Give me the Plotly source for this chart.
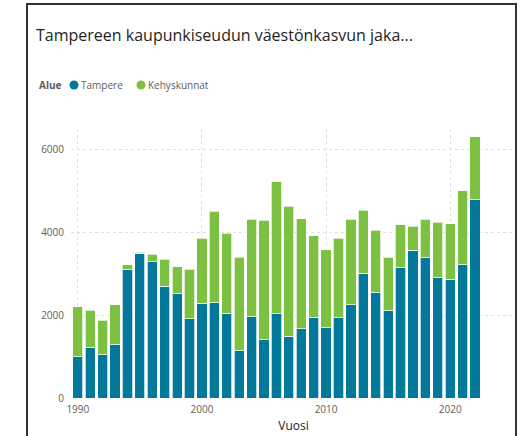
import plotly.graph_objects as go

years = list(range(1990, 2023))
tampere = [1000, 1230, 1045, 1285, 3090, 3490, 3285, 2700, 2520, 1910,
           2290, 2300, 2040, 1140, 1960, 1400, 2030, 1485, 1670, 1945,
           1695, 1935, 2250, 3010, 2555, 2105, 3155, 3565, 3380, 2900,
           2870, 3215, 4780]
totals = [2200, 2120, 1870, 2250, 3210, 3520, 3470, 3350, 3165, 3110,
          3850, 4505, 3975, 3400, 4315, 4290, 5215, 4625, 4320, 3910,
          3575, 3855, 4315, 4530, 4050, 3400, 4185, 4145, 4315, 4240,
          4210, 5000, 6300]
kehys = [t - a for t, a in zip(totals, tampere)]
series_names = ["Tampere", "Kehyskunnat"]
legend_title = "Alue"

BLUE = "#02799B"
GREEN = "#7DC143"
FONT = "Open Sans"

fig = go.Figure()
fig.add_bar(x=years, y=tampere, name=series_names[0], marker_color=BLUE,
            marker_line=dict(color="rgba(255,255,255,0.7)", width=1), showlegend=False)
fig.add_bar(x=years, y=kehys, name=series_names[1], marker_color=GREEN,
            marker_line=dict(color="rgba(255,255,255,0.7)", width=1), showlegend=False)

L, R, T, B = 71, 12, 129, 38
W, H = 528, 436
pw = W - L - R
ph = H - T - B

def px2x(px):
    return (px - L) / pw

def py2y(py):
    return (H - B - py) / ph

annotations = []
shapes = []
ly = py2y(85)
annotations.append(dict(text="<b>%s</b>" % legend_title, xref="paper", yref="paper",
                        x=px2x(37), y=ly, xanchor="left", yanchor="middle", showarrow=False,
                        font=dict(family=FONT, size=10, color="#605E5C")))
for name, col, cx, tx in [(series_names[0], BLUE, 74, 79), (series_names[1], GREEN, 141, 146)]:
    r = 4.5
    shapes.append(dict(type="circle", xref="paper", yref="paper",
                       x0=px2x(cx - r), x1=px2x(cx + r), y0=py2y(85 + r), y1=py2y(85 - r),
                       fillcolor=col, line=dict(width=0)))
    annotations.append(dict(text=name, xref="paper", yref="paper",
                            x=px2x(tx), y=ly, xanchor="left", yanchor="middle", showarrow=False,
                            font=dict(family=FONT, size=10, color="#605E5C")))

shapes.append(dict(type="rect", xref="paper", yref="paper",
                   x0=px2x(27), x1=px2x(516), y0=py2y(4), y1=py2y(460),
                   line=dict(color="#333333", width=2), fillcolor="rgba(0,0,0,0)",
                   layer="above"))

fig.update_layout(
    width=W, height=H,
    margin=dict(l=L, r=R, t=T, b=B, autoexpand=False),
    paper_bgcolor="white", plot_bgcolor="white",
    barmode="stack", bargap=0.18, showlegend=False,
    font=dict(family=FONT, color="#605E5C"),
    title=dict(text="Tampereen kaupunkiseudun väestönkasvun jaka...",
               xref="container", x=36 / W, xanchor="left",
               yref="container", y=1 - 35 / H, yanchor="middle",
               font=dict(family=FONT, size=16, color="#252423")),
    xaxis=dict(range=[1989.45, 2025.3], tickvals=[1990, 2000, 2010, 2020],
               showgrid=True, gridcolor="#E0E0E0", griddash="dot", gridwidth=1,
               zeroline=False, showline=False, ticks="", automargin=False,
               tickfont=dict(size=10, color="#605E5C"), ticklabelstandoff=4,
               title=dict(text="Vuosi", font=dict(size=12, color="#252423"), standoff=6)),
    yaxis=dict(range=[0, 6490], tickvals=[0, 2000, 4000, 6000],
               showgrid=True, gridcolor="#E0E0E0", griddash="dot", gridwidth=1,
               zeroline=False, showline=False, ticks="", automargin=False,
               tickfont=dict(size=10, color="#605E5C"), ticklabelstandoff=6),
    annotations=annotations,
    shapes=shapes,
)

fig.write_html("out.html", config={"displayModeBar": False},
               post_script="document.body.style.margin='0';document.body.style.overflow='hidden';")
